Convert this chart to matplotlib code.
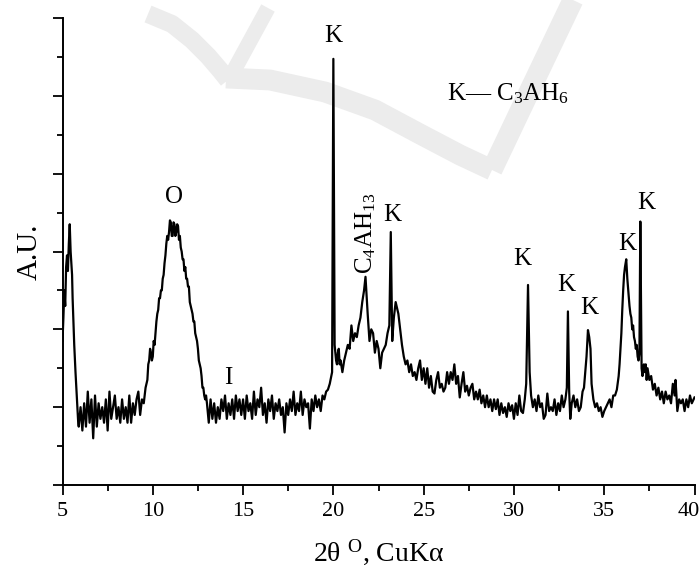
import matplotlib
matplotlib.use("Agg")
import matplotlib.pyplot as plt
from matplotlib.ticker import MultipleLocator, NullFormatter
from matplotlib.transforms import ScaledTranslation

plt.rcParams['font.family'] = ['Liberation Serif', 'DejaVu Serif']
plt.rcParams['mathtext.fontset'] = 'custom'
plt.rcParams['mathtext.rm'] = 'Liberation Serif'
plt.rcParams['mathtext.it'] = 'Liberation Serif:italic'
plt.rcParams['mathtext.bf'] = 'Liberation Serif:bold'

# ---- data (2theta in degrees, intensity in arbitrary units) ----
seg_peak5_x = [5.00, 5.05, 5.10, 5.15, 5.20, 5.25, 5.30, 5.35, 5.40, 5.45, 5.50, 5.53, 5.56, 5.60, 5.65, 5.72, 5.80, 5.87]
seg_peak5_y = [3.7, 4.3, 5.0, 4.6, 5.6, 5.9, 5.5, 6.2, 6.7, 6.0, 5.6, 5.4, 4.8, 4.3, 3.6, 2.9, 2.2, 1.6]

seg_base1_x = [5.9, 6.0, 6.1, 6.2, 6.3, 6.4, 6.5, 6.6, 6.7, 6.8, 6.9, 7.0, 7.1, 7.2, 7.3, 7.4, 7.5, 7.6, 7.7,
               7.8, 7.9, 8.0, 8.1, 8.2, 8.3, 8.4, 8.5, 8.6, 8.7, 8.8, 8.9, 9.0, 9.1, 9.2, 9.3, 9.4, 9.5, 9.6]
seg_base1_y = [1.5, 2.0, 1.4, 2.1, 1.5, 2.4, 1.6, 2.2, 1.2, 2.3, 1.5, 2.1, 1.7, 2.0, 1.6, 2.2, 1.4, 2.4, 1.7,
               2.0, 2.3, 1.7, 2.0, 1.6, 2.2, 1.7, 2.0, 1.6, 2.3, 1.6, 2.1, 1.8, 2.2, 2.4, 1.8, 2.2, 2.1, 2.5]

seg_hump_x = [9.7, 9.75, 9.8, 9.85, 9.9, 9.95, 10.0, 10.05, 10.1, 10.15, 10.2, 10.25, 10.3, 10.35, 10.4, 10.45,
              10.5, 10.55, 10.6, 10.65, 10.7, 10.75, 10.8, 10.85, 10.9, 10.95, 11.0, 11.05, 11.1, 11.15, 11.2,
              11.25, 11.3, 11.35, 11.4, 11.45, 11.5, 11.55, 11.6, 11.65, 11.7, 11.75, 11.8, 11.85, 11.9, 11.95,
              12.0, 12.05, 12.1, 12.15, 12.2, 12.25, 12.3, 12.35, 12.4, 12.45, 12.5, 12.55, 12.6, 12.65, 12.7,
              12.75, 12.8, 12.85, 12.9, 12.95, 13.0]
seg_hump_y = [2.7, 3.1, 3.2, 3.5, 3.4, 3.2, 3.3, 3.7, 3.6, 3.9, 4.2, 4.4, 4.5, 4.8, 4.8, 5.0,
              5.0, 5.3, 5.4, 5.7, 5.9, 6.2, 6.4, 6.3, 6.5, 6.8, 6.75, 6.4, 6.4, 6.75, 6.7,
              6.4, 6.5, 6.7, 6.65, 6.3, 6.4, 6.1, 6.0, 5.8, 5.8, 5.5, 5.6, 5.3, 5.3, 5.1,
              5.1, 4.7, 4.6, 4.5, 4.4, 4.2, 4.2, 3.9, 3.8, 3.7, 3.5, 3.2, 3.1, 3.0, 2.8,
              2.5, 2.5, 2.3, 2.2, 2.3, 2.1]

seg_base2_x = [13.1, 13.2, 13.3, 13.4, 13.5, 13.6, 13.7, 13.8, 13.9, 14.0, 14.1, 14.2, 14.3, 14.4, 14.5, 14.6,
               14.7, 14.8, 14.9, 15.0, 15.1, 15.2, 15.3, 15.4, 15.5, 15.6, 15.7, 15.8, 15.9, 16.0, 16.1, 16.2,
               16.3, 16.4, 16.5, 16.6, 16.7, 16.8, 16.9, 17.0, 17.1, 17.2, 17.3, 17.4, 17.5, 17.6, 17.7, 17.8,
               17.9, 18.0, 18.1, 18.2, 18.3, 18.4, 18.5, 18.6, 18.7, 18.8, 18.9, 19.0, 19.1, 19.2, 19.3, 19.4,
               19.5, 19.6, 19.7, 19.8, 19.93]
seg_base2_y = [1.6, 2.2, 1.7, 2.1, 1.6, 2.0, 1.7, 2.2, 1.9, 2.3, 1.7, 2.1, 1.8, 2.2, 1.7, 2.3,
               1.9, 2.2, 1.8, 2.2, 1.7, 2.3, 1.9, 2.1, 1.7, 2.4, 1.8, 2.2, 2.0, 2.5, 1.8, 2.1,
               1.6, 2.2, 1.9, 2.3, 1.7, 2.1, 1.9, 2.2, 1.8, 2.0, 1.35, 2.1, 1.8, 2.2, 1.9, 2.4,
               1.8, 2.1, 1.9, 2.4, 1.8, 2.2, 2.0, 2.1, 1.45, 2.2, 1.9, 2.3, 2.0, 2.2, 1.9, 2.3,
               2.2, 2.4, 2.45, 2.6, 2.9]

seg_mid_x = [20.0, 20.07, 20.15, 20.2, 20.25, 20.3, 20.35, 20.4, 20.5, 20.6, 20.7, 20.8, 20.9, 21.0, 21.1,
             21.2, 21.3, 21.4, 21.5, 21.6, 21.7, 21.78, 21.85, 21.9, 22.0, 22.1, 22.2, 22.3, 22.4, 22.5,
             22.6, 22.7, 22.8, 22.9, 23.0, 23.1, 23.18, 23.26, 23.35, 23.45, 23.5, 23.6, 23.7, 23.8, 23.9,
             24.0, 24.1, 24.2, 24.3, 24.4, 24.5, 24.6, 24.7, 24.8, 24.9]
seg_mid_y = [10.95, 3.6, 3.2, 3.1, 3.4, 3.5, 3.1, 3.2, 2.9, 3.2, 3.4, 3.6, 3.5, 4.1, 3.7,
             3.9, 3.8, 4.1, 4.3, 4.7, 5.0, 5.35, 4.8, 4.4, 3.7, 4.0, 3.9, 3.4, 3.7, 3.5,
             3.0, 3.4, 3.5, 3.6, 3.9, 4.1, 6.5, 3.7, 4.3, 4.7, 4.6, 4.4, 4.0, 3.6, 3.3,
             3.1, 3.2, 2.9, 3.1, 2.8, 2.9, 2.7, 3.0, 3.2, 2.7]

seg_base3_x = [25.0, 25.1, 25.2, 25.3, 25.4, 25.5, 25.6, 25.7, 25.8, 25.9, 26.0, 26.1, 26.2, 26.3, 26.4, 26.5,
               26.6, 26.7, 26.8, 26.9, 27.0, 27.1, 27.2, 27.3, 27.4, 27.5, 27.6, 27.7, 27.8, 27.9, 28.0, 28.1,
               28.2, 28.3, 28.4, 28.5, 28.6, 28.7, 28.8, 28.9, 29.0, 29.1, 29.2, 29.3, 29.4, 29.5, 29.6, 29.7,
               29.8, 29.9, 30.0, 30.1, 30.2, 30.3, 30.4, 30.5, 30.6]
seg_base3_y = [3.0, 2.6, 3.0, 2.5, 2.8, 2.4, 2.35, 2.7, 2.9, 2.5, 2.6, 2.4, 2.5, 2.9, 2.6, 2.9,
               2.7, 3.1, 2.6, 2.8, 2.25, 2.6, 2.9, 2.4, 2.55, 2.3, 2.5, 2.6, 2.2, 2.4, 2.2, 2.45,
               2.1, 2.3, 2.0, 2.3, 2.0, 2.2, 1.9, 2.2, 1.95, 2.2, 1.8, 2.1, 1.85, 2.0, 1.75, 2.1,
               1.9, 2.05, 1.7, 2.1, 1.8, 2.3, 1.9, 1.85, 2.2]

seg_end_x = [30.68, 30.78, 30.87, 30.95, 31.05, 31.15, 31.25, 31.35, 31.45, 31.55, 31.65, 31.75, 31.85, 31.95,
             32.05, 32.15, 32.25, 32.35, 32.45, 32.55, 32.65, 32.75, 32.85, 32.93, 32.99, 33.06, 33.12, 33.2,
             33.3, 33.4, 33.5, 33.6, 33.7, 33.8, 33.88, 33.95, 34.02, 34.1, 34.17, 34.24, 34.3, 34.4, 34.5,
             34.6, 34.7, 34.8, 34.9, 35.0, 35.1, 35.2, 35.3, 35.4, 35.5, 35.6, 35.7, 35.8, 35.85, 35.9, 35.95,
             36.0, 36.05, 36.1, 36.15, 36.22, 36.28, 36.33, 36.4, 36.45, 36.5, 36.55, 36.6, 36.65, 36.7, 36.75,
             36.8, 36.85, 36.9, 36.95, 37.0, 37.07, 37.12, 37.2, 37.25, 37.3, 37.35, 37.4, 37.5, 37.6, 37.7,
             37.8, 37.9, 38.0, 38.1, 38.2, 38.3, 38.4, 38.5, 38.6, 38.7, 38.8, 38.9, 38.95, 39.05, 39.15,
             39.25, 39.35, 39.45, 39.55, 39.65, 39.75, 39.85, 39.95, 40.0]
seg_end_y = [2.6, 5.14, 2.9, 2.3, 2.0, 2.2, 1.9, 2.3, 2.0, 2.1, 1.7, 1.8, 2.35, 1.9,
             2.0, 1.9, 2.2, 1.8, 2.1, 1.9, 2.3, 2.0, 2.2, 2.5, 4.46, 2.4, 1.7, 2.1,
             2.3, 2.0, 2.2, 1.9, 2.0, 2.4, 2.5, 2.9, 3.3, 3.98, 3.8, 3.5, 2.6, 2.2, 2.0,
             2.1, 1.9, 2.0, 1.75, 1.9, 2.0, 2.1, 2.2, 2.0, 2.3, 2.3, 2.45, 2.8, 3.1, 3.5, 3.9,
             4.5, 5.0, 5.4, 5.6, 5.8, 5.3, 5.0, 4.6, 4.4, 4.3, 4.0, 4.1, 3.8, 3.7, 3.5,
             3.6, 3.3, 3.2, 3.4, 6.77, 3.0, 2.8, 3.1, 2.9, 3.1, 2.7, 3.0, 2.7, 2.8, 2.45,
             2.6, 2.3, 2.5, 2.2, 2.4, 2.1, 2.4, 2.2, 2.3, 2.1, 2.6, 2.3, 2.7, 1.9, 2.2,
             2.1, 2.2, 1.9, 2.2, 2.0, 2.3, 2.1, 2.2, 2.25]

two_theta = (seg_peak5_x + seg_base1_x + seg_hump_x + seg_base2_x + seg_mid_x + seg_base3_x + seg_end_x)
intensity = (seg_peak5_y + seg_base1_y + seg_hump_y + seg_base2_y + seg_mid_y + seg_base3_y + seg_end_y)

# phase labels
peak_labels = ["K", "O", "I", "K", "K", "K", "K", "K", "K"]
peak_label_x = [20.0, 11.2, 14.2, 23.25, 30.45, 32.9, 34.19, 36.3, 37.35]
peak_label_y = [11.55, 7.4, 2.75, 6.95, 5.82, 5.15, 4.55, 6.2, 7.25]
c4_label = r"C$_4$AH$_{13}$"
c4_x, c4_y = 21.8, 5.42
legend_label = r"K— C$_3$AH$_6$"
legend_x, legend_y = 26.3, 10.05

x_ticks = [5, 10, 15, 20, 25, 30, 35, 40]

W, H = 700, 571
fig = plt.figure(figsize=(W / 100, H / 100), dpi=100)

# faint watermark in the background of the source image
wm_color = '#ececec'
wm = fig.add_axes([0, 0, 1, 1], zorder=0)
wm.set_xlim(0, W)
wm.set_ylim(H, 0)
wm.axis('off')
wm.plot([148, 172, 192, 208, 220, 228], [14, 24, 40, 56, 70, 80], color=wm_color, lw=13,
        solid_capstyle='butt', solid_joinstyle='round')
wm.plot([232, 268], [74, 8], color=wm_color, lw=11, solid_capstyle='butt')
wm.plot([226, 270, 325, 375, 420, 460, 492], [78, 80, 92, 110, 134, 155, 170],
        color=wm_color, lw=15, solid_capstyle='butt', solid_joinstyle='round')
wm.plot([492, 530, 573], [170, 90, 0], color=wm_color, lw=15, solid_capstyle='butt')

ax = fig.add_axes([62.5 / W, 1 - 485 / H, (694.5 - 62.5) / W, (485 - 18) / H], zorder=1)
ax.patch.set_alpha(0)
ax.plot(two_theta, intensity, color='black', lw=1.6)

ax.set_xlim(5, 40)
ax.set_ylim(0, 12)
ax.set_xticks(x_ticks)
ax.set_xticklabels([str(t) for t in x_ticks])
ax.xaxis.set_minor_locator(MultipleLocator(2.5))
ax.yaxis.set_major_locator(MultipleLocator(2))
ax.yaxis.set_minor_locator(MultipleLocator(1))
ax.yaxis.set_major_formatter(NullFormatter())
ax.tick_params(axis='both', which='major', direction='out', length=7, width=1.3, labelsize=16)
ax.tick_params(axis='both', which='minor', direction='out', length=4, width=1.3)
ax.tick_params(axis='x', pad=5)
for s in ['top', 'right']:
    ax.spines[s].set_visible(False)
for s in ['left', 'bottom']:
    ax.spines[s].set_linewidth(1.4)

ax.set_xlabel(r"2θ $^{\rm O}$, CuKα", fontsize=20, labelpad=12)
ax.set_ylabel("A.U.", fontsize=21, labelpad=4)

for t, x, y in zip(peak_labels, peak_label_x, peak_label_y):
    ax.text(x, y, t, fontsize=18, ha='center', va='center')
ax.text(c4_x, c4_y, c4_label, fontsize=18, rotation=90, ha='center', va='bottom')
ax.text(legend_x, legend_y, legend_label, fontsize=18, ha='left', va='center')

fig.canvas.draw()
last = ax.get_xticklabels()[-1]
last.set_transform(last.get_transform() + ScaledTranslation(-6 / 100, 0, fig.dpi_scale_trans))

fig.savefig("out.png", dpi=100)
